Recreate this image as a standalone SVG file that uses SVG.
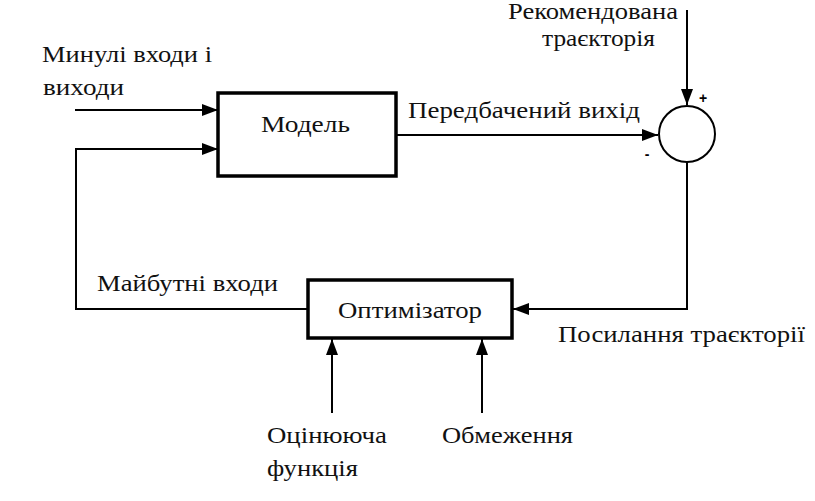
<svg xmlns="http://www.w3.org/2000/svg" width="815" height="501" viewBox="0 0 815 501">
<defs>
<marker id="ah" markerWidth="16" markerHeight="12" refX="16" refY="6" orient="auto" markerUnits="userSpaceOnUse">
<path d="M0,0 L16,6 L0,12 Z" fill="#000"/>
</marker>
<style>
.box{fill:#fff;stroke:#000;stroke-width:3.5}
.ln{fill:none;stroke:#000;stroke-width:2}
</style>
</defs>
<rect width="815" height="501" fill="#fff"/>
<g id="connectors">
<path class="ln" d="M75,110 L218,110" marker-end="url(#ah)"/>
<path class="ln" d="M308,309 L76,309 L76,149 L218,149" marker-end="url(#ah)"/>
<path class="ln" d="M396,135 L658,135" marker-end="url(#ah)"/>
<path class="ln" d="M687,10 L687,105" marker-end="url(#ah)"/>
<path class="ln" d="M687,162 L687,309 L513,309" marker-end="url(#ah)"/>
<path class="ln" d="M332,413 L332,339" marker-end="url(#ah)"/>
<path class="ln" d="M482,413 L482,339" marker-end="url(#ah)"/>
</g>
<g font-family="'Liberation Serif', 'DejaVu Serif', serif" font-size="23" fill="#111">
<g id="model">
<rect class="box" x="218" y="93" width="178" height="83"/>
<text x="261" y="132" textLength="89" lengthAdjust="spacingAndGlyphs">Модель</text>
</g>
<g id="sum">
<circle cx="687" cy="134" r="28" fill="#fff" stroke="#000" stroke-width="2"/>
<text x="703" y="103" text-anchor="middle" font-family="'Liberation Sans', sans-serif" font-size="14" font-weight="bold" fill="#000">+</text>
<text x="647" y="159" text-anchor="middle" font-family="'Liberation Sans', sans-serif" font-size="14" font-weight="bold" fill="#000">-</text>
</g>
<g id="optimizer">
<rect class="box" x="308" y="280" width="204" height="58"/>
<text x="338" y="318" textLength="144" lengthAdjust="spacingAndGlyphs">Оптимізатор</text>
</g>
<g id="labels">
<text x="42" y="62" textLength="170" lengthAdjust="spacingAndGlyphs">Минулі входи і</text>
<text x="43" y="95" textLength="81" lengthAdjust="spacingAndGlyphs">виходи</text>
<text x="408" y="118" textLength="232" lengthAdjust="spacingAndGlyphs">Передбачений вихід</text>
<text x="508" y="19" textLength="170" lengthAdjust="spacingAndGlyphs">Рекомендована</text>
<text x="542" y="46" textLength="113" lengthAdjust="spacingAndGlyphs">траєкторія</text>
<text x="97" y="291" textLength="181" lengthAdjust="spacingAndGlyphs">Майбутні входи</text>
<text x="558" y="342" textLength="247" lengthAdjust="spacingAndGlyphs">Посилання траєкторії</text>
<text x="267" y="443" textLength="120" lengthAdjust="spacingAndGlyphs">Оцінююча</text>
<text x="267" y="476" textLength="91" lengthAdjust="spacingAndGlyphs">функція</text>
<text x="442" y="443" textLength="131" lengthAdjust="spacingAndGlyphs">Обмеження</text>
</g>
</g>
</svg>
